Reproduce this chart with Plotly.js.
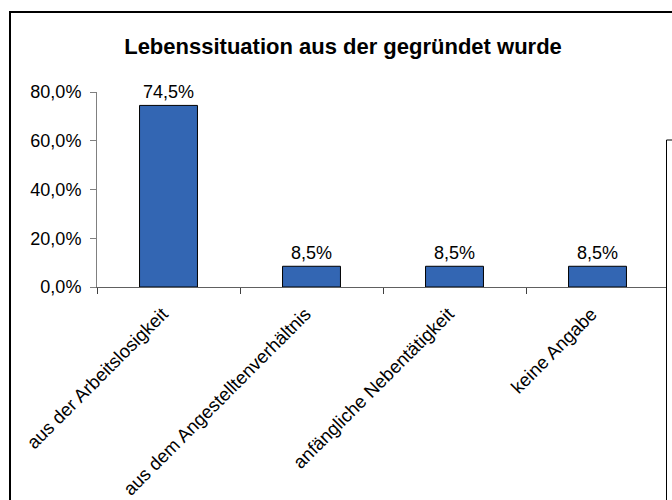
<!DOCTYPE html>
<html>
<head>
<meta charset="utf-8">
<script src="https://cdn.plot.ly/plotly-3.0.1.min.js"></script>
<style>
html,body{margin:0;padding:0;background:#fff;}
#chart{width:672px;height:500px;}
</style>
</head>
<body>
<div id="chart"></div>
<script>
const categories = ["aus der Arbeitslosigkeit", "aus dem Angestelltenverhältnis", "anfängliche Nebentätigkeit", "keine Angabe"];
const values = [74.5, 8.5, 8.5, 8.5];
const yTicks = [0, 20, 40, 60, 80];
const yTickLabels = ["0,0%", "20,0%", "40,0%", "60,0%", "80,0%"];
const titleText = "Lebenssituation aus der gegründet wurde";

const W = 672, H = 500;
const L = 97, R = 3, T = 92, B = 213;
const pw = W - L - R, ph = H - T - B;
const px = v => (v - L) / pw;
const py = v => (H - B - v) / ph;

const font = "Liberation Sans, Arial, sans-serif";

const trace = {
  type: "bar",
  x: categories,
  y: values,
  marker: {color: "#3366B3", line: {color: "#000000", width: 1}},
  texttemplate: "%{y:.1f}%",
  textposition: "outside",
  cliponaxis: false,
  textfont: {family: font, size: 18, color: "#000"},
  hoverinfo: "skip"
};

const layout = {
  width: W, height: H,
  margin: {l: L, r: R, t: T, b: B, pad: 0},
  paper_bgcolor: "#fff", plot_bgcolor: "#fff",
  separators: ",.",
  bargap: 0.595,
  showlegend: false,
  font: {family: font, size: 18, color: "#000"},
  title: {
    text: "<b>" + titleText + "</b>",
    font: {family: font, size: 22, color: "#000"},
    x: 343 / W, xanchor: "center", xref: "container",
    y: 1 - 46 / H, yanchor: "middle", yref: "container"
  },
  xaxis: {
    type: "category",
    range: [-0.5, 3.5],
    showline: true, linecolor: "#606060", linewidth: 1,
    ticks: "outside", tickson: "boundaries", ticklen: 6, tickcolor: "#404040", tickwidth: 1,
    tickangle: -45,
    ticklabelstandoff: 8,
    ticklabelshift: -6,
    tickfont: {family: font, size: 18.5, color: "#000"},
    showgrid: false, zeroline: false, automargin: false, fixedrange: true
  },
  yaxis: {
    range: [0, 80],
    tickvals: yTicks,
    ticktext: yTickLabels,
    showline: true, linecolor: "#808080", linewidth: 1,
    ticks: "outside", ticklen: 6, tickcolor: "#808080", tickwidth: 1,
    ticklabelstandoff: 5,
    tickfont: {family: font, size: 18, color: "#000"},
    showgrid: false, zeroline: false, automargin: false, fixedrange: true
  },
  shapes: [
    {type: "rect", xref: "paper", yref: "paper", layer: "above",
     x0: px(10), x1: px(720), y0: py(560), y1: py(12),
     line: {color: "#000", width: 2}, fillcolor: "rgba(0,0,0,0)"},
    {type: "rect", xref: "paper", yref: "paper", layer: "above",
     x0: px(666.5), x1: px(720), y0: py(560), y1: py(140),
     line: {color: "#000", width: 1}, fillcolor: "#fff"}
  ]
};

Plotly.newPlot("chart", [trace], layout, {displayModeBar: false, staticPlot: true});
</script>
</body>
</html>
